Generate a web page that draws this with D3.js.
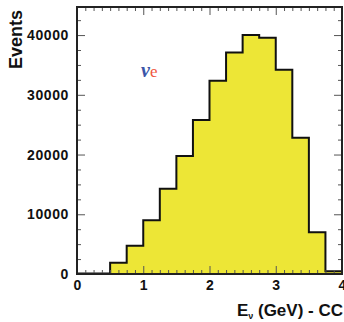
<!DOCTYPE html>
<html>
<head>
<meta charset="utf-8">
<script src="https://cdn.jsdelivr.net/npm/d3@7"></script>
<style>
  body { margin: 0; background: #fff; }
  svg text { font-family: "Liberation Sans", Arial, sans-serif; }
  svg text.serif { font-family: "Liberation Serif", "DejaVu Serif", serif; }
</style>
</head>
<body>
<div id="chart"></div>
<script>
// bins of 0.25 GeV, lower edges
var binLow = [0, 0.25, 0.5, 0.75, 1.0, 1.25, 1.5, 1.75, 2.0, 2.25, 2.5, 2.75, 3.0, 3.25, 3.5, 3.75];
var counts = [80, 80, 1900, 4740, 8980, 14280, 19750, 25770, 32360, 37100, 40000, 39550, 34200, 22820, 6970, 450];
var xTicks = [0, 1, 2, 3, 4];
var yTicks = [0, 10000, 20000, 30000, 40000];

var svgWidth = 344, svgHeight = 322;
var margin = {top: 7, right: 2, bottom: 48, left: 77};
var width = 342 - margin.left;
var height = 274 - margin.top;

var svg = d3.select("#chart").append("svg")
  .attr("width", svgWidth)
  .attr("height", svgHeight);

var g = svg.append("g")
  .attr("transform", `translate(${margin.left}, ${margin.top})`);

var x = d3.scaleLinear().domain([0, 4]).range([0, width]);
var y = d3.scaleLinear().domain([0, 44700]).range([height, 0]);

// step points: each bin value held until next edge
var pts = binLow.map((b, i) => [b, counts[i]]);
pts.push([4, counts[counts.length - 1]]);

var area = d3.area()
  .x(d => x(d[0]))
  .y0(y(0))
  .y1(d => y(d[1]))
  .curve(d3.curveStepAfter);

var line = d3.line()
  .x(d => x(d[0]))
  .y(d => y(d[1]))
  .curve(d3.curveStepAfter);

g.append("path")
  .datum(pts)
  .attr("d", area)
  .attr("fill", "#ede636");

g.append("path")
  .datum(pts.concat([[4, 0]]))
  .attr("d", line)
  .attr("fill", "none")
  .attr("stroke", "#111")
  .attr("stroke-width", 2);

// minor ticks
var xMinor = d3.range(0, 4.001, 0.125).filter(v => Math.abs(v - Math.round(v)) > 1e-6);
var yMinor = d3.range(0, 44700, 2500).filter(v => v % 10000 !== 0);

function tickStyle(sel) {
  sel.select(".domain").remove();
  sel.selectAll(".tick line").attr("stroke", "#555").attr("stroke-width", 1);
}

// left axis
g.append("g")
  .call(d3.axisLeft(y).tickValues(yTicks).tickSize(-8).tickPadding(8).tickFormat(d3.format("d")))
  .call(tickStyle)
  .selectAll("text")
  .attr("font-size", 14)
  .attr("font-weight", "bold")
  .attr("letter-spacing", "0.6px")
  .attr("fill", "#111");

g.append("g")
  .call(d3.axisLeft(y).tickValues(yMinor).tickSize(-4).tickFormat(""))
  .call(tickStyle);

// right axis
g.append("g")
  .attr("transform", `translate(${width},0)`)
  .call(d3.axisRight(y).tickValues(yTicks).tickSize(-8).tickFormat(""))
  .call(tickStyle);
g.append("g")
  .attr("transform", `translate(${width},0)`)
  .call(d3.axisRight(y).tickValues(yMinor).tickSize(-4).tickFormat(""))
  .call(tickStyle);

// bottom axis
g.append("g")
  .attr("transform", `translate(0,${height})`)
  .call(d3.axisBottom(x).tickValues(xTicks).tickSize(-8).tickPadding(6).tickFormat(d3.format("d")))
  .call(tickStyle)
  .selectAll("text")
  .attr("font-size", 14)
  .attr("font-weight", "bold")
  .attr("fill", "#111");
g.append("g")
  .attr("transform", `translate(0,${height})`)
  .call(d3.axisBottom(x).tickValues(xMinor).tickSize(-4).tickFormat(""))
  .call(tickStyle);

// top axis
g.append("g")
  .call(d3.axisTop(x).tickValues(xTicks).tickSize(-8).tickFormat(""))
  .call(tickStyle);
g.append("g")
  .call(d3.axisTop(x).tickValues(xMinor).tickSize(-4).tickFormat(""))
  .call(tickStyle);

// frame
g.append("rect")
  .attr("width", width)
  .attr("height", height)
  .attr("fill", "none")
  .attr("stroke", "#222")
  .attr("stroke-width", 2);

// axis titles
svg.append("text")
  .attr("transform", "rotate(-90)")
  .attr("x", -10)
  .attr("y", 22)
  .attr("text-anchor", "end")
  .attr("font-size", 18)
  .attr("font-weight", "bold")
  .attr("fill", "#111")
  .text("Events");

var xt = svg.append("text")
  .attr("x", 343)
  .attr("y", 316)
  .attr("text-anchor", "end")
  .attr("font-size", 17)
  .attr("font-weight", "bold")
  .attr("fill", "#111");
xt.append("tspan").text("E");
xt.append("tspan").attr("font-size", 9).attr("dy", 3).text("\u03bd");
xt.append("tspan").attr("dy", -3).text(" (GeV) - CC");

// nu_e label
var lbl = svg.append("text")
  .attr("class", "serif")
  .attr("x", 141)
  .attr("y", 77)
  .attr("font-size", 20)
  .attr("font-weight", "bold");
lbl.append("tspan").attr("fill", "#3b56a8").attr("font-style", "italic").text("\u03bd");
lbl.append("tspan").attr("fill", "#f0553e").attr("font-weight", "normal").attr("font-size", 17).text("e");
</script>
</body>
</html>
